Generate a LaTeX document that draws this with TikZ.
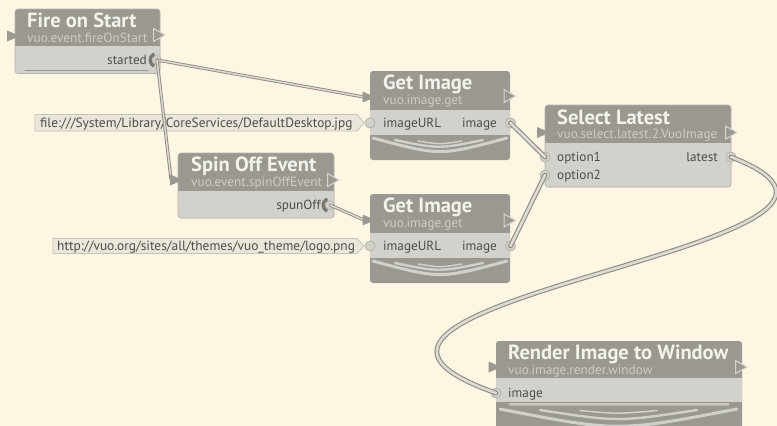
\documentclass[tikz,border=0pt]{standalone}
\usepackage{fontspec}
\setmainfont{PT Sans}
\definecolor{bg}{HTML}{FDF6E3}
\definecolor{hdr}{HTML}{9A9891}
\definecolor{bodyc}{HTML}{D3D1CB}
\definecolor{edgec}{HTML}{B5B2AB}
\definecolor{titlec}{HTML}{F4F2EC}
\definecolor{subc}{HTML}{CFCCC5}
\definecolor{portc}{HTML}{4E4D4A}
\definecolor{donec}{HTML}{D8D5CF}
\definecolor{arcc}{HTML}{D2D0CA}
\definecolor{cabedge}{HTML}{8F8C85}
\definecolor{cabin}{HTML}{DEDBD2}
\definecolor{constfill}{HTML}{EAE6DA}
\definecolor{constdraw}{HTML}{C6C2B8}
\definecolor{trigc}{HTML}{7A7771}
\begin{document}
\begin{tikzpicture}[x=1pt,y=-1pt,
  title/.style={anchor=base west, inner sep=0, text=titlec, font=\fontsize{20.5}{21}\selectfont\bfseries},
  sub/.style={anchor=base west, inner sep=0, text=subc, font=\fontsize{13.3}{14}\selectfont},
  plab/.style={anchor=base west, inner sep=0, text=portc, font=\fontsize{13.2}{14}\selectfont},
  plabr/.style={plab, anchor=base east},
  ctext/.style={anchor=base west, inner sep=0, text=portc, font=\fontsize{13.4}{14}\selectfont},
  portc/.style={fill=bodyc, draw=edgec, line width=0.8},
  constbox/.style={fill=constfill, draw=constdraw, line width=0.8},
  evcable/.style={draw=cabedge, line width=0.9, double=cabin, double distance=1.4, line cap=round},
  datacable/.style={draw=cabedge, line width=1.1, double=cabin, double distance=2.6, line cap=round},
  arcline/.style={draw=arcc, line cap=round},
  evin/.pic={\fill[hdr] (-6.5,-5.5) -- (6.5,0) -- (-6.5,5.5) -- cycle;},
  evout/.pic={\filldraw[fill=hdr, draw=donec, line width=1] (-5.5,-6.5) -- (6,0) -- (-5.5,6.5) -- cycle;},
  trig/.pic={\filldraw[fill=bodyc, draw=edgec, line width=0.6] (0,0) circle (4.5);
             \draw[trigc, line width=3.2] (115:6.8) arc (115:245:6.8);}
]
\useasboundingbox (0,0) rectangle (777,426);
\fill[bg] (0,0) rectangle (777,426);

% ---------- Fire on Start ----------
\fill[hdr, rounded corners=3] (15,9) rectangle (160,73.5);
\fill[bodyc, rounded corners=3] (15,46) rectangle (160,73.5);
\fill[bodyc] (15,46) rectangle (160,50);
\draw[edgec, line width=0.6, rounded corners=3] (15,9) rectangle (160,73.5);
\draw[hdr, line width=1, line cap=round] (25,70.2) -- (148,70.2);
\node[title] (t1) at (27,27.5) {Fire on Start};
\node[sub] (s1) at (27,42.7) {vuo.event.fireOnStart};
\node[plabr] (l1) at (147,64.5) {started};
\coordinate (started) at (157,60);

% ---------- Get Image 1 ----------
\fill[hdr, rounded corners=3] (370,71) rectangle (510,160);
\fill[bodyc] (370,110) rectangle (510,135);
\node[title] (t2) at (383,89) {Get Image};
\node[sub] (s2) at (383,104) {vuo.image.get};
\node[plab] (l2a) at (383,127.5) {imageURL};
\node[plabr] (l2b) at (497,127.5) {image};
\draw[arcline, line width=3] (373,138) .. controls (440,156) .. (507,138);
\draw[arcline, line width=2.4] (395,140) .. controls (439,149) .. (483,140);
\draw[arcline, line width=1.5] (418,141) .. controls (440,144.5) .. (462,141);
\coordinate (g1in) at (370,123);
\coordinate (g1out) at (510.5,123);
\coordinate (g1ev) at (364,97);

% ---------- Select Latest ----------
\fill[hdr, rounded corners=3] (545,105) rectangle (731,187);
\fill[bodyc, rounded corners=3] (545,143) rectangle (731,187);
\fill[bodyc] (545,143) rectangle (731,147);
\draw[edgec, line width=0.6, rounded corners=3] (545,105) rectangle (731,187);
\node[title] (t3) at (557,124) {Select Latest};
\node[sub] (s3) at (557,138.2) {vuo.select.latest.2.VuoImage};
\node[plab] (l3a) at (557,161.5) {option1};
\node[plab] (l3b) at (557,179.5) {option2};
\node[plabr] (l3c) at (718,161.5) {latest};
\coordinate (opt1) at (545,157);
\coordinate (opt2) at (545,175);
\coordinate (latest) at (731,157);

% ---------- Spin Off Event ----------
\fill[hdr, rounded corners=3] (178,153) rectangle (334,218);
\fill[bodyc, rounded corners=3] (178,191) rectangle (334,218);
\fill[bodyc] (178,191) rectangle (334,195);
\draw[edgec, line width=0.6, rounded corners=3] (178,153) rectangle (334,218);
\node[title] (t4) at (191,171.5) {Spin Off Event};
\node[sub] (s4) at (191,186.2) {vuo.event.spinOffEvent};
\node[plabr] (l4) at (321,209.5) {spunOff};
\coordinate (spunoff) at (330,205);
\coordinate (spinev) at (171,179);

% ---------- Get Image 2 ----------
\fill[hdr, rounded corners=3] (370,194) rectangle (510,283);
\fill[bodyc] (370,233) rectangle (510,258);
\node[title] (t5) at (383,212) {Get Image};
\node[sub] (s5) at (383,227.2) {vuo.image.get};
\node[plab] (l5a) at (383,250.5) {imageURL};
\node[plabr] (l5b) at (497,250.5) {image};
\draw[arcline, line width=3] (373,261) .. controls (440,279) .. (507,261);
\draw[arcline, line width=2.4] (395,263) .. controls (439,272) .. (483,263);
\draw[arcline, line width=1.5] (418,264) .. controls (440,267.5) .. (462,264);
\coordinate (g2in) at (370,246);
\coordinate (g2out) at (510.5,246);
\coordinate (g2ev) at (364,220);

% ---------- Render Image to Window ----------
\fill[hdr, rounded corners=3] (496,341) rectangle (742,440);
\fill[bodyc] (496,378) rectangle (742,402);
\filldraw[fill=bodyc!90!brown, draw=bodyc!70!black, line width=0.7, rounded corners=1.5] (508,402.5) rectangle (730,406);
\node[title] (t6) at (508,359.5) {Render Image to Window};
\node[sub] (s6) at (508,374.2) {vuo.image.render.window};
\node[plab] (l6) at (508,397.5) {image};
\draw[arcline, line width=3] (500,409) .. controls (618,432) .. (737,409);
\draw[arcline, line width=2.4] (540,410) .. controls (618,422) .. (697,410);
\draw[arcline, line width=1.5] (580,410.5) .. controls (618,414) .. (657,410.5);
\coordinate (rin) at (496,393);

% ---------- constants ----------
\filldraw[constbox] (35,114.5) -- (357,114.5) -- (364,122.8) -- (357,131) -- (35,131) -- cycle;
\node[ctext] (c1) at (40,127.5) {file:///System/Library/CoreServices/DefaultDesktop.jpg};
\filldraw[constbox] (53,238.5) -- (357,238.5) -- (364,246) -- (357,253.5) -- (53,253.5) -- cycle;
\node[ctext] (c2) at (57,250.5) {http://vuo.org/sites/all/themes/vuo\_theme/logo.png};

% ---------- ports ----------
\foreach \p in {g1in,g1out,g2in,g2out,opt1,opt2,latest,rin}
  \filldraw[portc] (\p) circle (5);
\pic at (started) {trig};
\pic at (spunoff) {trig};

% ---------- cables ----------
\draw[evcable] (started) -- (g1ev);
\draw[evcable] (started) -- (spinev);
\draw[evcable] (spunoff) -- (g2ev);
\draw[datacable] (g1out) -- (opt1);
\draw[datacable] (g2out) -- (opt2);
\draw[datacable] (latest) .. controls (960,245) and (230,300) .. (rin);

% ---------- event ports ----------
\pic at (13.5,36) {evin};
\pic at (159,35) {evout};
\pic at (369,97) {evin};
\pic at (509.5,96) {evout};
\pic at (543.5,132.5) {evin};
\pic at (731,132.5) {evout};
\pic at (176.5,180) {evin};
\pic at (333,180) {evout};
\pic at (369,220) {evin};
\pic at (509.5,220.5) {evout};
\pic at (495,367) {evin};
\pic at (741,367) {evout};
\end{tikzpicture}
\end{document}
